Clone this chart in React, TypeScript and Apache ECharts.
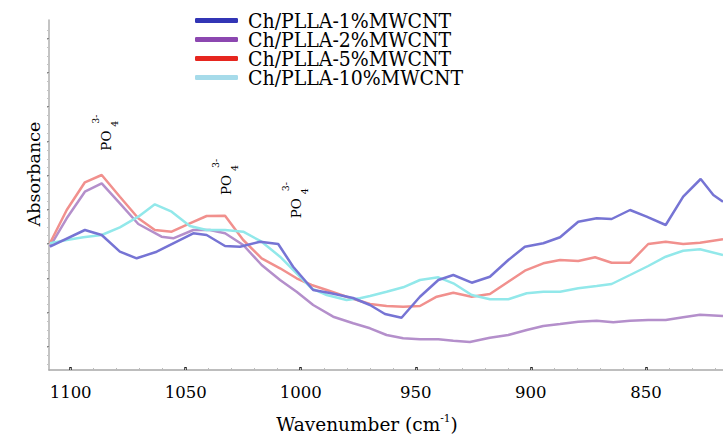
import React, { useEffect, useRef } from "react";
import * as echarts from "echarts";

// ---- data ----
const seriesNames = [
  "Ch/PLLA-1%MWCNT",
  "Ch/PLLA-2%MWCNT",
  "Ch/PLLA-5%MWCNT",
  "Ch/PLLA-10%MWCNT",
];

const wn1 = [1109, 1093.8, 1086.5, 1078.6, 1071.3, 1062.6, 1046.7, 1040.9, 1032.9, 1026.4, 1017.7, 1009.8, 1003.3, 994.6, 987.3, 977.3, 969.9, 963.4, 956.2, 948.2, 940.2, 933.7, 925.7, 917.8, 909.8, 902.6, 894.6, 887.3, 879.4, 871.4, 864.9, 856.9, 849.7, 841.4, 833.8, 826.2, 820.7, 816.5];
const abs1 = [123.3, 140, 135, 118.3, 111.7, 118.3, 136.7, 135, 124, 123.3, 128.3, 126, 103.3, 80, 77, 72, 65, 56, 52.3, 73.3, 90, 95, 87.3, 93.3, 110, 123.3, 126.7, 132.7, 148.3, 151.7, 151, 160, 153.3, 145, 173.3, 191, 175, 168.3];

const wn2 = [1109, 1101.7, 1093.8, 1086.5, 1078.6, 1070.6, 1060.5, 1055.4, 1046.7, 1039.5, 1032.9, 1025, 1017, 1009, 1001.8, 994.6, 985.9, 977.2, 969.9, 962.7, 955.5, 948.2, 940.2, 933.7, 926.5, 917.8, 909.8, 901.8, 894.6, 887.3, 879.4, 871.4, 864.2, 856.9, 849, 841.4, 833.8, 826.5, 816.5];
const abs2 = [123.3, 151.7, 178.3, 186.7, 166.7, 146, 133.3, 131.7, 140, 140, 136.7, 125, 105, 90, 78.3, 65, 53.3, 46.7, 41.7, 35, 31.7, 30.7, 30.7, 29.3, 28, 32.3, 35, 40, 44, 46, 48.3, 49.3, 47.7, 49.3, 50, 50, 52.7, 55.3, 54];

const wn5 = [1109, 1101.7, 1093.8, 1086.5, 1078.6, 1070.6, 1063.4, 1056.1, 1048.2, 1040.9, 1032.9, 1025, 1017, 1009, 1001.8, 995.3, 988.7, 980.1, 969.9, 962.7, 955.5, 948.2, 940.9, 933.7, 925.7, 917.8, 909.8, 902.6, 894.6, 887.3, 879.4, 872.1, 864.9, 856.9, 849, 841.4, 833.8, 826.5, 816.5];
const abs5 = [126.7, 160, 187.7, 195, 173.3, 151.7, 140, 138.3, 146.7, 154, 154.3, 130, 111.7, 101.7, 91.7, 85, 80, 73.3, 66, 64, 63.3, 64, 73.3, 77.3, 73.3, 76, 88.3, 99.3, 106.7, 110, 109, 112.7, 107.3, 107.3, 126, 128.3, 126, 127.3, 130.7];

const wn10 = [1109, 1101.7, 1094.5, 1086.5, 1078.6, 1070.6, 1063.4, 1056.1, 1048.2, 1040.9, 1032.9, 1025, 1017, 1009, 1001.8, 995.3, 988.7, 980.1, 974.3, 969.9, 962.7, 955.5, 948.2, 940.2, 933.7, 925.7, 917.8, 909.8, 901.8, 894.6, 887.3, 879.4, 871.4, 864.9, 856.9, 849, 841.4, 833.8, 826.5, 816.5];
const abs10 = [126.7, 130, 132.7, 135, 142.7, 153.3, 165.7, 158.3, 144, 140, 140, 138.3, 128.3, 113.3, 96.7, 81.7, 75, 70, 71.7, 74, 78.3, 82.7, 90, 92.7, 86.7, 75, 70.7, 70.7, 76.7, 78.3, 78.3, 81.7, 84, 86, 95, 104, 113.3, 119.3, 120.7, 115];

const xTickLabels = [1100, 1050, 1000, 950, 900, 850];
const xMinorTicks = [1100, 1090, 1080, 1070, 1060, 1050, 1040, 1030, 1020, 1010, 1000, 990, 980, 970, 960, 950, 940, 930, 920, 910, 900, 890, 880, 870, 860, 850, 840, 830, 820];
const yMajorTicks = [23, 57, 91, 126, 160, 194, 228, 263, 297, 331];
const yMinorTicks = [6, 14.5, 23, 31.5, 40, 48.5, 57, 65.5, 74, 82.5, 91, 99.5, 108, 117, 126, 134.5, 143, 151.5, 160, 168.5, 177, 185.5, 194, 202.5, 211, 219.5, 228, 237, 246, 254.5, 263, 271.5, 280, 288.5, 297, 305.5, 314, 322.5, 331, 339.5];

const lineColors = ["#7674d4", "#b48fcb", "#f1908d", "#92e8ea"];
const legendColors = ["#3235b5", "#8c47b0", "#e6261f", "#a6dbea"];

const SERIF = "DejaVu Serif";
const SERIF_C = "DejaVu Serif Condensed, DejaVu Serif";

function zip(xs: number[], ys: number[]) {
  return xs.map((x, i) => [x, ys[i]]);
}

function txt(x: number, y: number, text: string, size: number) {
  return {
    type: "text",
    x,
    y,
    style: {
      text,
      fontFamily: SERIF,
      fontSize: size,
      fill: "#000",
      textAlign: "left",
      textVerticalAlign: "middle",
    },
  };
}

function po4(x: number, y: number) {
  return {
    type: "group",
    x,
    y,
    rotation: Math.PI / 2,
    children: [txt(0, 0, "PO", 13.5), txt(24, 8.5, "4", 9.5), txt(27, -10.5, "3-", 9.5)],
  };
}

export default function App() {
  const ref = useRef<HTMLDivElement>(null);
  useEffect(() => {
    if (!ref.current) return;
    const chart = echarts.init(ref.current, null, { renderer: "svg" });
    const datasets = [zip(wn1, abs1), zip(wn2, abs2), zip(wn5, abs5), zip(wn10, abs10)];
    const xMin = 816.5;
    const xMax = 1109.4;
    chart.setOption({
      animation: false,
      backgroundColor: "#ffffff",
      grid: { left: 49, right: 0, top: 20, bottom: 67, containLabel: false },
      legend: {
        orient: "vertical",
        left: 195,
        top: 10,
        padding: 0,
        itemWidth: 43,
        itemHeight: 5,
        itemGap: -2,
        icon: "roundRect",
        textStyle: {
          fontFamily: SERIF_C,
          fontSize: 21,
          color: "#000",
          lineHeight: 19,
          padding: [0, 0, 0, 5],
        },
        data: seriesNames.map((n, i) => ({ name: n, itemStyle: { color: legendColors[i] } })),
      },
      xAxis: [
        {
          type: "value",
          inverse: true,
          min: xMin,
          max: xMax,
          position: "bottom",
          splitLine: { show: false },
          axisLine: { show: true, lineStyle: { color: "#a8a8a8", width: 1.5 } },
          axisTick: { show: true, inside: true, length: 3, customValues: xTickLabels, lineStyle: { color: "#222", width: 2.5 } },
          axisLabel: {
            show: true,
            customValues: xTickLabels,
            margin: 14,
            color: "#000",
            fontFamily: SERIF,
            fontSize: 16.5,
            formatter: (v: number) => String(Math.round(v)),
          },
        },
        {
          type: "value",
          inverse: true,
          min: xMin,
          max: xMax,
          position: "bottom",
          splitLine: { show: false },
          axisLine: { show: false },
          axisTick: { show: true, inside: true, length: 2, customValues: xMinorTicks, lineStyle: { color: "#bbb", width: 1 } },
          axisLabel: { show: false },
        },
      ],
      yAxis: [
        {
          type: "value",
          min: 0,
          max: 350,
          position: "left",
          splitLine: { show: false },
          axisLine: { show: true, lineStyle: { color: "#b0b0b0", width: 1.5 } },
          axisTick: { show: true, inside: false, length: 2, customValues: yMajorTicks, lineStyle: { color: "#888", width: 2 } },
          axisLabel: { show: false },
        },
        {
          type: "value",
          min: 0,
          max: 350,
          position: "left",
          splitLine: { show: false },
          axisLine: { show: false },
          axisTick: { show: true, inside: false, length: 2, customValues: yMinorTicks, lineStyle: { color: "#c4c4c4", width: 1 } },
          axisLabel: { show: false },
        },
      ],
      series: seriesNames.map((n, i) => ({
        name: n,
        type: "line",
        xAxisIndex: 0,
        yAxisIndex: 0,
        data: datasets[i],
        showSymbol: false,
        symbol: "none",
        smooth: false,
        lineStyle: { color: lineColors[i], width: 2.5 },
        itemStyle: { color: lineColors[i] },
        z: i === 0 ? 5 : 3,
      })),
      graphic: [
        {
          type: "text",
          x: 367,
          y: 423,
          style: {
            text: "{a|Wavenumber (cm}{s|-1}{a|)}",
            textAlign: "center",
            textVerticalAlign: "middle",
            fill: "#000",
            rich: {
              a: { fontFamily: SERIF, fontSize: 18.5, lineHeight: 22, verticalAlign: "bottom", fill: "#000" },
              s: { fontFamily: SERIF, fontSize: 10.5, lineHeight: 22, verticalAlign: "top", fill: "#000" },
            },
          },
        },
        {
          type: "text",
          x: 34,
          y: 174,
          rotation: Math.PI / 2,
          style: {
            text: "Absorbance",
            fontFamily: SERIF,
            fontSize: 17.5,
            fill: "#000",
            textAlign: "center",
            textVerticalAlign: "middle",
          },
        },
        po4(105.7, 150.7),
        po4(226, 195),
        po4(296, 218.3),
      ],
    });
    return () => chart.dispose();
  }, []);
  return (
    <div
      ref={ref}
      style={{ position: "fixed", left: 0, top: 0, width: 723, height: 437, background: "#fff" }}
    />
  );
}
